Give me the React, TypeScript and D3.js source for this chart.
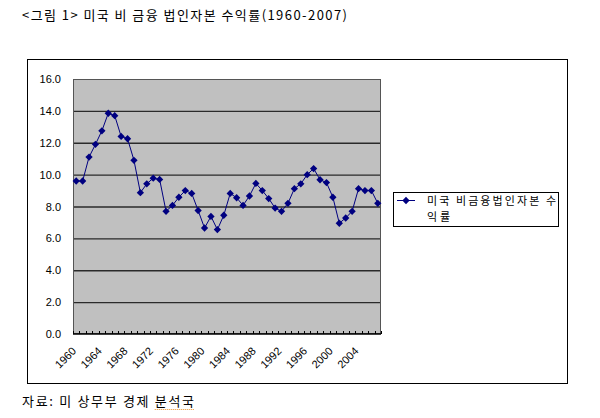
import { useEffect, useRef } from "react"
import * as d3 from "d3"

// 연도 (1960-2007)
const years: number[] = d3.range(1960, 2008)

// 미국 비금융법인자본 수익률 (%)
const returns: number[] = [
  9.6, 9.6, 11.1, 11.9, 12.75, 13.85, 13.7, 12.4, 12.25, 10.9,
  8.87, 9.42, 9.78, 9.7, 7.7, 8.07, 8.58, 9.0, 8.82, 7.75,
  6.65, 7.38, 6.55, 7.45, 8.82, 8.55, 8.07, 8.66, 9.45, 9.0,
  8.5, 7.9, 7.7, 8.2, 9.12, 9.42, 10.0, 10.38, 9.68, 9.5,
  8.58, 6.95, 7.28, 7.7, 9.12, 9.0, 9.0, 8.2,
]

const yTicks: number[] = [0, 2, 4, 6, 8, 10, 12, 14, 16]
const xLabelYears: number[] = [1960, 1964, 1968, 1972, 1976, 1980, 1984, 1988, 1992, 1996, 2000, 2004]

const title = "<그림 1> 미국 비 금융 법인자본 수익률(1960-2007)"
const source = "자료: 미 상무부 경제 분석국"
const legendLines = ["미국 비금융법인자본 수", "익률"]

const NAVY = "#000080"
const KR_FONT = "'Noto Sans CJK KR', sans-serif"
const AXIS_FONT = "'Liberation Sans', Arial, sans-serif"

export default function App() {
  const svgRef = useRef<SVGSVGElement>(null)

  useEffect(() => {
    if (!svgRef.current) return
    const svg = d3.select(svgRef.current)
    svg.selectAll("*").remove()

    const plot = { left: 73, top: 79, right: 381, bottom: 334 }

    const x = d3
      .scaleBand<number>()
      .domain(years)
      .range([plot.left, plot.right])
    const y = d3.scaleLinear().domain([0, 16]).range([plot.bottom, plot.top])

    // 제목 (굴림체처럼 넓게)
    svg.append("text")
      .attr("x", 22)
      .attr("y", 20)
      .attr("font-family", KR_FONT)
      .attr("font-size", 13)
      .attr("fill", "#000")
      .attr("textLength", 325)
      .attr("lengthAdjust", "spacing")
      .text(title)

    // 바깥 테두리
    svg.append("rect")
      .attr("x", 27.5)
      .attr("y", 59.5)
      .attr("width", 540)
      .attr("height", 324)
      .attr("fill", "#fff")
      .attr("stroke", "#000")
      .attr("stroke-width", 1)

    // 플롯 영역
    svg.append("rect")
      .attr("x", plot.left)
      .attr("y", plot.top)
      .attr("width", plot.right - plot.left)
      .attr("height", plot.bottom - plot.top)
      .attr("fill", "#c0c0c0")

    // 가로 눈금선
    svg.append("g")
      .selectAll("line")
      .data(yTicks.filter((t) => t > 0 && t < 16))
      .join("line")
      .attr("x1", plot.left)
      .attr("x2", plot.right)
      .attr("y1", (d) => y(d) + 0.5)
      .attr("y2", (d) => y(d) + 0.5)
      .attr("stroke", "#2a2a2a")
      .attr("stroke-width", 1.3)

    svg.append("rect")
      .attr("x", plot.left + 0.5)
      .attr("y", plot.top + 0.5)
      .attr("width", plot.right - plot.left - 1)
      .attr("height", plot.bottom - plot.top - 1)
      .attr("fill", "none")
      .attr("stroke", "#555")
      .attr("stroke-width", 1)

    // Y축 레이블
    svg.append("g")
      .selectAll("text")
      .data(yTicks)
      .join("text")
      .attr("x", 61)
      .attr("y", (d) => y(d) + 4)
      .attr("text-anchor", "end")
      .attr("font-family", AXIS_FONT)
      .attr("font-size", 11)
      .attr("fill", "#000")
      .text((d) => d.toFixed(1))

    // X축 선과 눈금
    svg.append("line")
      .attr("x1", plot.left)
      .attr("x2", plot.right)
      .attr("y1", plot.bottom)
      .attr("y2", plot.bottom)
      .attr("stroke", "#000")
      .attr("stroke-width", 1.5)

    const tickXs = years.map((yr) => x(yr) as number).concat([plot.right])
    svg.append("g")
      .selectAll("line")
      .data(tickXs)
      .join("line")
      .attr("x1", (d) => Math.round(d) + 0.5)
      .attr("x2", (d) => Math.round(d) + 0.5)
      .attr("y1", plot.bottom)
      .attr("y2", plot.bottom - 3)
      .attr("stroke", "#000")
      .attr("stroke-width", 1)

    // X축 레이블 (45도 회전)
    svg.append("g")
      .selectAll("text")
      .data(xLabelYears)
      .join("text")
      .attr("transform", (d) => {
        const cx = (x(d) as number) + x.bandwidth() / 2 - 2
        return `translate(${cx},${plot.bottom + 15}) rotate(-45)`
      })
      .attr("text-anchor", "end")
      .attr("dy", "0.35em")
      .attr("font-family", AXIS_FONT)
      .attr("font-size", 11)
      .attr("fill", "#000")
      .text((d) => String(d))

    // 선
    const px = (i: number) => (x(years[i]) as number) + x.bandwidth() / 2
    const line = d3
      .line<number>()
      .x((_d, i) => px(i))
      .y((d) => y(d))

    svg.append("path")
      .datum(returns)
      .attr("fill", "none")
      .attr("stroke", NAVY)
      .attr("stroke-width", 1)
      .attr("d", line)

    // 마름모 마커
    const diamond = d3.symbol().type(d3.symbolDiamond2).size(34)
    svg.append("g")
      .selectAll("path")
      .data(returns)
      .join("path")
      .attr("transform", (d, i) => `translate(${px(i)},${y(d)})`)
      .attr("d", diamond)
      .attr("fill", NAVY)

    // 범례
    const lg = svg.append("g")
    lg.append("rect")
      .attr("x", 393.5)
      .attr("y", 192.5)
      .attr("width", 165)
      .attr("height", 34)
      .attr("fill", "#fff")
      .attr("stroke", "#000")
      .attr("stroke-width", 1)
    lg.append("line")
      .attr("x1", 397)
      .attr("x2", 415)
      .attr("y1", 200.5)
      .attr("y2", 200.5)
      .attr("stroke", NAVY)
      .attr("stroke-width", 1)
    lg.append("path")
      .attr("transform", "translate(406,200.5)")
      .attr("d", diamond)
      .attr("fill", NAVY)
    lg.append("text")
      .attr("x", 427)
      .attr("y", 204.5)
      .attr("font-family", KR_FONT)
      .attr("font-size", 11)
      .attr("fill", "#000")
      .attr("textLength", 129)
      .attr("lengthAdjust", "spacing")
      .text(legendLines[0])
    lg.append("text")
      .attr("x", 427)
      .attr("y", 220.5)
      .attr("font-family", KR_FONT)
      .attr("font-size", 11)
      .attr("fill", "#000")
      .attr("textLength", 23)
      .attr("lengthAdjust", "spacing")
      .text(legendLines[1])

    // 출처
    const src = svg.append("text")
      .attr("x", 22)
      .attr("y", 406)
      .attr("font-family", KR_FONT)
      .attr("font-size", 13)
      .attr("fill", "#000")
      .attr("textLength", 172)
      .attr("lengthAdjust", "spacing")
      .text(source)

    // 맞춤법 표시 (점선 밑줄)
    const node = src.node() as SVGTextElement
    const ext = node.getExtentOfChar(source.length - 3)
    svg.append("line")
      .attr("x1", ext.x)
      .attr("x2", 194)
      .attr("y1", 409.5)
      .attr("y2", 409.5)
      .attr("stroke", "#e8902a")
      .attr("stroke-width", 1)
      .attr("stroke-dasharray", "1,1")
  }, [])

  return (
    <svg
      ref={svgRef}
      width={600}
      height={418}
      style={{ position: "absolute", left: 0, top: 0, background: "#fff" }}
    />
  )
}
